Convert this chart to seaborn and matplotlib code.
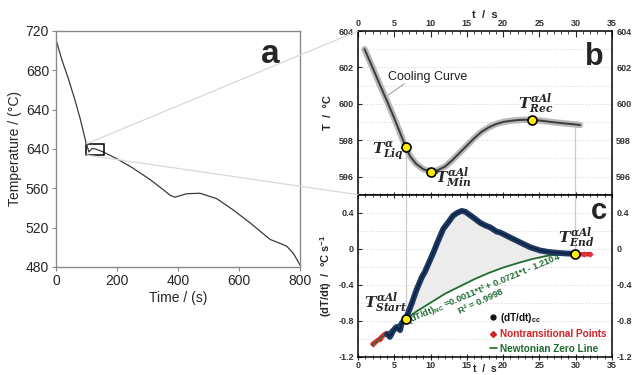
import numpy as np
import pandas as pd
import matplotlib
matplotlib.use("Agg")
import matplotlib.pyplot as plt
import seaborn as sns
from matplotlib.lines import Line2D
from matplotlib.patches import Rectangle
from matplotlib.ticker import MultipleLocator

# ---------------- data ----------------
# panel a: full cooling curve
time_a = [0, 20, 40, 60, 80, 98, 108, 118, 130, 155, 200, 250, 308, 350, 374, 390,
          428, 472, 527, 581, 636, 702, 735, 757, 779, 800]
temp_a = [711, 690, 672, 652, 630, 607, 597, 600.5, 600, 597, 590, 581, 569, 559, 553, 551,
          554.5, 555, 549.5, 538, 525, 508, 504, 501, 493.5, 482]
a_yticks = [720, 680, 640, 600, 560, 520, 480]
a_yticklabels = ["720", "680", "640", "640", "560", "520", "480"]
a_xticks = [0, 200, 400, 600, 800]

# panel b: zoomed cooling curve
t_b = [0.9, 2, 3, 4, 5, 6, 6.6, 7.2, 8, 9, 10.1, 11, 12, 13, 14, 15, 16, 17, 18, 19, 20,
       21, 22, 23, 24, 25, 26, 27, 28, 29, 30, 30.6]
T_b = [603.0, 602.0, 601.05, 600.15, 599.2, 598.2, 597.6, 597.1, 596.7, 596.4, 596.26,
       596.35, 596.55, 596.9, 597.3, 597.7, 598.1, 598.45, 598.7, 598.88, 599.0, 599.06,
       599.1, 599.12, 599.12, 599.08, 599.03, 598.98, 598.94, 598.9, 598.86, 598.83]
b_points_t = [6.6, 10.1, 24.0]
b_points_T = [597.6, 596.26, 599.12]

# panel c: first derivative
t_cc = [4.0, 4.4, 4.9, 5.3, 5.8, 6.0, 6.6, 7.4, 8.0, 8.8, 9.2, 10.4, 11.0, 11.75, 12.5, 13.1,
        13.7, 14.3, 14.8, 15.2, 16.0, 16.8, 17.5, 18.2, 19.1, 19.6, 20.9, 22.3, 23.7, 25.1,
        26.2, 27.4, 28.6, 29.9]
v_cc = [-0.95, -0.98, -0.905, -0.87, -0.905, -0.83, -0.776, -0.61, -0.47, -0.315, -0.26,
        -0.04, 0.08, 0.22, 0.30, 0.367, 0.40, 0.42, 0.41, 0.386, 0.34, 0.29, 0.26, 0.238,
        0.19, 0.18, 0.127, 0.072, 0.017, -0.02, -0.035, -0.046, -0.053, -0.057]
t_nt1 = [2.0, 2.5, 3.0, 3.5, 3.9]
v_nt1 = [-1.06, -1.03, -1.0, -0.96, -0.94]
t_nt2 = [29.9, 30.5, 31.2, 32.0]
v_nt2 = [-0.06, -0.062, -0.062, -0.062]
t_nc = [2, 4, 6.6, 8, 10, 12, 14, 16, 18, 20, 22, 24, 26, 28, 29.9]
v_nc = [-1.07, -0.94, -0.78, -0.70, -0.60, -0.50, -0.42, -0.34, -0.27, -0.21, -0.16,
        -0.115, -0.08, -0.06, -0.055]
c_points_t = [6.6, 29.9]
c_points_v = [-0.776, -0.057]

# ---------------- style ----------------
sns.set_style("white")
plt.rcParams["font.family"] = ["Liberation Sans", "DejaVu Sans"]
plt.rcParams["mathtext.fontset"] = "custom"
plt.rcParams["mathtext.it"] = "DejaVu Serif:italic:bold"
plt.rcParams["mathtext.rm"] = "Liberation Sans:bold"
plt.rcParams["mathtext.bf"] = "Liberation Sans:bold"

W, H = 632, 375
fig = plt.figure(figsize=(6.32, 3.75), dpi=100)
fig.patch.set_facecolor("white")

def fx(px):
    return px / W

def fy(py):
    return 1 - py / H

ax_a = fig.add_axes([fx(56), fy(267), 244 / W, 236 / H])
ax_b = fig.add_axes([fx(358), fy(194.7), 254 / W, (194.7 - 31) / H])
ax_c = fig.add_axes([fx(358), fy(356.7), 254 / W, (356.7 - 194.7) / H])

# connecting lines (figure level)
fig.add_artist(Line2D([fx(86), fx(358)], [fy(144), fy(31)], transform=fig.transFigure,
                      color="#d9d9d9", lw=0.9, zorder=0.5))
fig.add_artist(Line2D([fx(86), fx(358)], [fy(155), fy(194.7)], transform=fig.transFigure,
                      color="#d9d9d9", lw=0.9, zorder=0.5))

# ---------------- panel a ----------------
da = pd.DataFrame({"t": time_a, "T": temp_a})
sns.lineplot(data=da, x="t", y="T", ax=ax_a, color="#3a3a3a", lw=0.9, sort=False, estimator=None)
ax_a.add_patch(Rectangle((98, 594), 60, 11, fill=False, ec="black", lw=1.1, zorder=3))
ax_a.set_xlim(0, 800)
ax_a.set_ylim(480, 720)
ax_a.set_xticks(a_xticks)
ax_a.set_yticks(a_yticks)
ax_a.set_yticklabels(a_yticklabels)
ax_a.set_xlabel("Time / (s)", fontsize=10, labelpad=2)
ax_a.set_ylabel("Temperature / (°C)", fontsize=10, labelpad=3)
ax_a.tick_params(labelsize=10, length=3, color="#888888", pad=2, left=True, bottom=True)
for s in ax_a.spines.values():
    s.set_color("#8a8a8a")
    s.set_linewidth(1.0)
ax_a.text(0.88, 0.9, "a", transform=ax_a.transAxes, fontsize=24, fontweight="bold",
          ha="center", va="center")

# ---------------- panels b and c common ----------------
for ax in (ax_b, ax_c):
    ax.set_xlim(0, 35)
    for s in ax.spines.values():
        s.set_color("black")
        s.set_linewidth(1.1)
    ax.xaxis.set_major_locator(MultipleLocator(5))
    ax.xaxis.set_minor_locator(MultipleLocator(1))

# ---------------- panel b ----------------
ax_b.set_ylim(595, 604)
ax_b.set_yticks([596, 598, 600, 602, 604])
ax_b.yaxis.set_minor_locator(MultipleLocator(1))
ax_b.grid(True, which="both", axis="y", color="#cfcfcf", ls=(0, (1, 2)), lw=0.7)
ax_b.grid(False, axis="x", which="both")
ax_b.xaxis.tick_top()
ax_b.xaxis.set_label_position("top")
ax_b.tick_params(axis="x", which="major", top=True, bottom=False, labeltop=True,
                 labelbottom=False, direction="in", length=4, labelsize=6.5, pad=2)
ax_b.tick_params(axis="x", which="minor", top=True, bottom=False, direction="in", length=2)
ax_b.tick_params(axis="y", which="major", left=True, right=False, labelleft=True,
                 labelright=True, direction="in", length=3, labelsize=6.5, pad=3)
ax_b.tick_params(axis="y", which="minor", left=False, right=False)
for lab in ax_b.get_xticklabels() + ax_b.get_yticklabels():
    lab.set_fontweight("bold")
    lab.set_color("#333333")

ax_b.plot([6.6, 6.6], [595, 597.6], color="#cccccc", lw=0.9, zorder=1)
ax_b.plot([29.9, 29.9], [595, 598.86], color="#cccccc", lw=0.9, zorder=1)

db = pd.DataFrame({"t": t_b, "T": T_b})
sns.lineplot(data=db, x="t", y="T", ax=ax_b, color="#b8b8b8", lw=4.6, sort=False,
             estimator=None, zorder=3)
sns.lineplot(data=db, x="t", y="T", ax=ax_b, color="#3c3c3c", lw=1.4, sort=False,
             estimator=None, zorder=4)
sns.scatterplot(x=b_points_t, y=b_points_T, ax=ax_b, color="#ffee00", edgecolor="black",
                linewidth=1.2, s=42, zorder=5)
ax_b.set_xlabel("t  /  s", fontsize=8, fontweight="bold", labelpad=1)
ax_b.set_ylabel("T  /  °C", fontsize=8, fontweight="bold", labelpad=4)

ax_b.text(4.1, 601.45, "Cooling Curve", fontsize=9, ha="left", va="center", color="#222222")
ax_b.plot([6.4, 3.7], [601.1, 600.35], color="#999999", lw=0.7, zorder=2)
ax_b.text(4.1, 597.4, r"$T^{\alpha}_{Liq}$", fontsize=11, ha="center", va="center")
ax_b.text(13.1, 595.95, r"$T^{\alpha Al}_{Min}$", fontsize=11, ha="center", va="center")
ax_b.text(24.5, 600.0, r"$T^{\alpha Al}_{Rec}$", fontsize=11, ha="center", va="center")
ax_b.text(0.93, 0.84, "b", transform=ax_b.transAxes, fontsize=22, fontweight="bold",
          ha="center", va="center")

# ---------------- panel c ----------------
ax_c.set_ylim(-1.2, 0.6)
ax_c.set_yticks([-1.2, -0.8, -0.4, 0, 0.4])
ax_c.set_yticklabels(["-1.2", "-0.8", "-0.4", "0", "0.4"])
ax_c.yaxis.set_minor_locator(MultipleLocator(0.2))
ax_c.grid(True, which="both", axis="y", color="#cfcfcf", ls=(0, (1, 2)), lw=0.7)
ax_c.grid(False, axis="x", which="both")
ax_c.tick_params(axis="x", which="major", top=True, bottom=True, labeltop=False,
                 labelbottom=True, direction="inout", length=5, labelsize=6.5, pad=0.5)
ax_c.tick_params(axis="x", which="minor", top=True, bottom=True, direction="inout", length=3)
ax_c.tick_params(axis="y", which="major", left=True, right=False, labelleft=True,
                 labelright=True, direction="in", length=3, labelsize=6.5, pad=3)
ax_c.tick_params(axis="y", which="minor", left=False, right=False)
for lab in ax_c.get_xticklabels() + ax_c.get_yticklabels():
    lab.set_fontweight("bold")
    lab.set_color("#333333")

ax_c.plot([6.6, 6.6], [0.6, -0.776], color="#cccccc", lw=0.9, zorder=1)
ax_c.plot([29.9, 29.9], [0.6, -0.057], color="#cccccc", lw=0.9, zorder=1)

# shaded area between derivative and Newtonian zero line
i0 = t_cc.index(6.6)
poly_t = list(t_cc[i0:]) + list(t_nc[2:])[::-1]
poly_v = list(v_cc[i0:]) + list(v_nc[2:])[::-1]
ax_c.fill(poly_t, poly_v, color="#ececec", lw=0, zorder=1.5)

dnc = pd.DataFrame({"t": t_nc, "v": v_nc})
sns.lineplot(data=dnc, x="t", y="v", ax=ax_c, color="#1e6b30", lw=1.3, sort=False,
             estimator=None, zorder=3)
dcc = pd.DataFrame({"t": t_cc, "v": v_cc})
sns.lineplot(data=dcc, x="t", y="v", ax=ax_c, color="#1d3a63", lw=4.2, sort=False,
             estimator=None, zorder=4)
sns.lineplot(data=dcc, x="t", y="v", ax=ax_c, color="#0f2244", lw=1.2, sort=False,
             estimator=None, zorder=4.1)
for tt, vv in ((t_nt1, v_nt1), (t_nt2, v_nt2)):
    sns.lineplot(x=tt, y=vv, ax=ax_c, color="#d42027", lw=3.2, sort=False, estimator=None,
                 zorder=3.5)
    sns.scatterplot(x=tt, y=vv, ax=ax_c, color="#e0303a", marker="D", s=10, lw=0, zorder=3.6)
sns.lineplot(x=t_nc[:3], y=v_nc[:3], ax=ax_c, color="#1e6b30", lw=1.0, sort=False,
             estimator=None, zorder=3.7)
sns.scatterplot(x=c_points_t, y=c_points_v, ax=ax_c, color="#ffee00", edgecolor="black",
                linewidth=1.2, s=42, zorder=6)

ax_c.set_xlabel("t  /  s", fontsize=7.5, fontweight="bold")
ax_c.xaxis.label.set_va("bottom")
ax_c.xaxis.set_label_coords(0.5, (356.7 - 374.0) / 162.0)
ax_c.set_ylabel(r"(dT/dt)  /  °C s$^{\mathrm{-1}}$", fontsize=8, fontweight="bold", labelpad=3)

ax_c.text(3.8, -0.6, r"$T^{\alpha Al}_{Start}$", fontsize=11, ha="center", va="center")
ax_c.text(30.1, 0.12, r"$T^{\alpha Al}_{End}$", fontsize=11, ha="center", va="center")
ax_c.text(0.95, 0.9, "c", transform=ax_c.transAxes, fontsize=21, fontweight="bold",
          ha="center", va="center")

ax_c.text(17.3, -0.44, r"(dT/dt)$_{\mathrm{NC}}$ =0.0011*t² + 0.0721*t - 1.2104", fontsize=6.6,
          fontweight="bold", color="#1e6b30", rotation=23, rotation_mode="anchor",
          ha="center", va="center")
ax_c.text(16.9, -0.585, "R² = 0.9998", fontsize=6.6, fontweight="bold", color="#1e6b30",
          rotation=25, rotation_mode="anchor", ha="center", va="center")

handles = [
    Line2D([], [], marker="o", ls="none", color="#111111", markersize=3.5),
    Line2D([], [], marker="D", ls="none", color="#d42027", markersize=3),
    Line2D([], [], ls="-", color="#1e6b30", lw=1.2),
]
labels = [r"(dT/dt)$_{\mathrm{cc}}$", "Nontransitional Points", "Newtonian Zero Line"]
leg = ax_c.legend(handles, labels, loc="lower right", bbox_to_anchor=(1.0, -0.02),
                  frameon=False, fontsize=7.2, handlelength=0.7, handletextpad=0.3,
                  labelspacing=0.45, borderaxespad=0.2)
for txt, col in zip(leg.get_texts(), ["#111111", "#d42027", "#1e6b30"]):
    txt.set_color(col)
    txt.set_fontweight("bold")

fig.savefig("out.png", dpi=100, facecolor="white")
